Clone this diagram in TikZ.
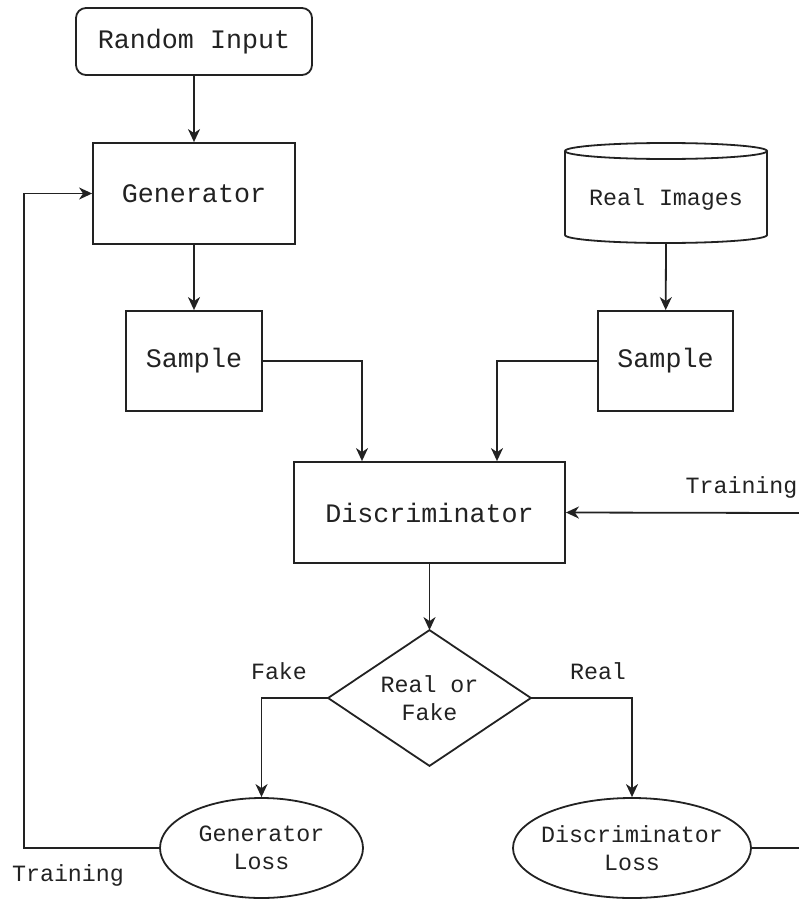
\documentclass[tikz,border=0pt]{standalone}
\usepackage{fontspec}
\usetikzlibrary{shapes.geometric,arrows.meta,calc}
\newfontfamily\cour{Liberation Mono}
\definecolor{ink}{HTML}{222222}
\begin{document}
\begin{tikzpicture}[x=1pt,y=-1pt,
  line width=1.8pt, draw=ink, text=ink,
  big/.style={font=\cour\fontsize{26.7}{30}\selectfont},
  small/.style={font=\cour\fontsize{23.3}{28}\selectfont},
  box/.style={draw, rectangle, inner sep=0pt, big},
  frame/.style={rectangle, inner sep=0pt, align=center, small},
  arr/.style={-{Stealth[length=13pt,width=12pt,inset=4pt]}},
  lbl/.style={small, anchor=base, inner sep=0pt}]
\useasboundingbox (0,0) rectangle (799,899);

% process boxes
\node[box, rounded corners=10pt, minimum width=236pt, minimum height=67pt] (rand) at (194,41.5) {Random Input};
\node[box, minimum width=202pt, minimum height=101pt] (gen) at (194,193.5) {Generator};
\node[box, minimum width=136pt, minimum height=100pt] (sampL) at (194,361) {Sample};
\node[box, minimum width=135pt, minimum height=100pt] (sampR) at (665.5,361) {Sample};
\node[box, minimum width=271pt, minimum height=101pt] (disc) at (429.5,512.5) {Discriminator};

% image store drawn as a cylinder
\node[frame, minimum width=202pt, minimum height=100pt] (real) at (666,199) {Real Images};
\draw (666,151) ellipse [x radius=101, y radius=8];
\draw (565,151) -- (565,235) arc [start angle=180, end angle=0, x radius=101, y radius=8] -- (767,151);

% decision
\node[frame, minimum width=201pt, minimum height=134pt] (dec) at (429.5,698) {Real or\\Fake};
\draw (dec.north) -- (dec.east) -- (dec.south) -- (dec.west) -- cycle;

% loss terms
\node[frame, minimum width=203pt, minimum height=100pt] (gloss) at (261.5,848) {Generator\\Loss};
\draw (gloss.center) ellipse [x radius=101.5, y radius=50];
\node[frame, minimum width=238pt, minimum height=100pt] (dloss) at (632,848) {Discriminator\\Loss};
\draw (dloss.center) ellipse [x radius=119, y radius=50];

% open ends at the right border
\coordinate (trainIn) at (799,513);
\coordinate (trainOut) at (799,848);

% connectors
\draw[arr] (rand) -- (gen);
\draw[arr] (gen) -- (sampL);
\draw[arr] (666,243) -- (sampR);
\draw[arr] (sampL.east) -| ([xshift=-67.5pt]disc.north);
\draw[arr] (sampR.west) -| ([xshift=67.5pt]disc.north);
\draw[arr] (disc) -- (dec.north);
\draw[arr] (dec.west) -| (gloss.north);
\draw[arr] (dec.east) -| (dloss.north);
\draw[arr] (gloss.west) -- ++(-135,0) |- (gen.west);
\draw (dloss.east) -- (trainOut);
\draw[arr] (trainIn) -- (disc.east);

% edge labels
\node[lbl] (lfake) at (279,679) {Fake};
\node[lbl] (lreal) at (598,679) {Real};
\node[lbl] (ltrainR) at (741.5,493) {Training};
\node[lbl] (ltrainL) at (68,881) {Training};
\end{tikzpicture}
\end{document}
